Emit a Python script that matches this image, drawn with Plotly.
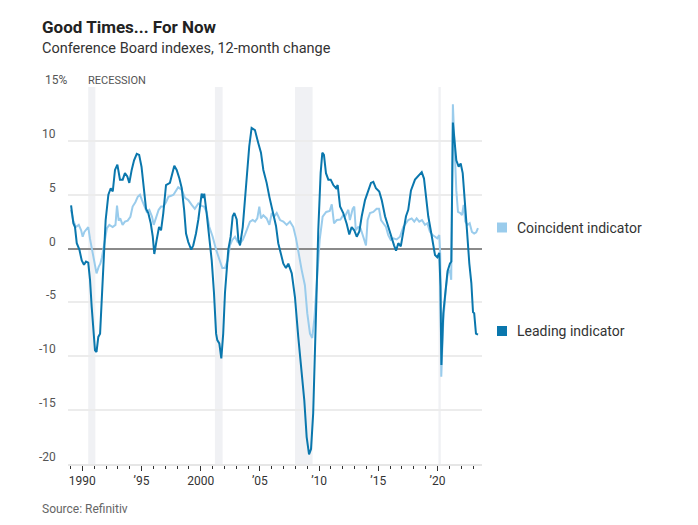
import plotly.graph_objects as go

# ---- data (decimal years, % 12-month change) ----
leading_years = [
    1989.05, 1989.15, 1989.24, 1989.38, 1989.53, 1989.75, 1989.95, 1990.14, 1990.31, 1990.5,
    1990.65, 1990.79, 1990.93, 1991.07, 1991.2, 1991.35, 1991.5, 1991.64, 1991.77, 1991.97,
    1992.2, 1992.4, 1992.57, 1992.76, 1992.96, 1993.18, 1993.41, 1993.6, 1993.8, 1993.97,
    1994.17, 1994.37, 1994.6, 1994.8, 1995.0, 1995.2, 1995.38, 1995.57, 1995.78, 1995.95,
    1996.08, 1996.28, 1996.48, 1996.65, 1996.84, 1997.07, 1997.4, 1997.77, 1997.97, 1998.2,
    1998.4, 1998.6, 1998.76, 1998.95, 1999.2, 1999.37, 1999.6, 1999.8, 1999.94, 2000.08,
    2000.2, 2000.3, 2000.5, 2000.7, 2000.93, 2001.12, 2001.3, 2001.4, 2001.57, 2001.74,
    2001.9, 2002.05, 2002.2, 2002.33, 2002.53, 2002.7, 2002.84, 2003.04, 2003.18, 2003.32,
    2003.55, 2003.74, 2003.94, 2004.1, 2004.3, 2004.45, 2004.58, 2004.86, 2005.09, 2005.29,
    2005.57, 2005.8, 2006.13, 2006.36, 2006.55, 2006.76, 2006.98, 2007.2, 2007.4, 2007.69,
    2007.96, 2008.24, 2008.53, 2008.75, 2008.95, 2009.15, 2009.32, 2009.5, 2009.74, 2009.93,
    2010.13, 2010.27, 2010.41, 2010.58, 2010.78, 2010.98, 2011.2, 2011.43, 2011.57, 2011.77,
    2012.04, 2012.33, 2012.55, 2012.75, 2012.97, 2013.18, 2013.4, 2013.6, 2013.88, 2014.15,
    2014.38, 2014.58, 2014.8, 2015.08, 2015.29, 2015.57, 2015.84, 2016.13, 2016.33, 2016.5,
    2016.69, 2016.9, 2017.11, 2017.34, 2017.53, 2017.76, 2018.1, 2018.38, 2018.67, 2018.86,
    2019.03, 2019.22, 2019.43, 2019.65, 2019.79, 2019.98, 2020.15, 2020.25, 2020.33, 2020.49,
    2020.65, 2020.85, 2021.05, 2021.17, 2021.3, 2021.45, 2021.59, 2021.79, 2021.96, 2022.13,
    2022.3, 2022.49, 2022.69, 2022.86, 2023.0, 2023.1, 2023.25, 2023.42,
]
leading_values = [
    4.0, 3.2, 2.35, 2.0, 0.5, -0.1, -1.1, -1.5, -1.2, -1.3,
    -2.9, -5.4, -7.9, -9.45, -9.6, -8.2, -7.9, -4.5, -0.8, 2.65,
    5.0, 5.6, 5.3, 7.3, 7.8, 6.4, 6.4, 7.0, 6.7, 6.1,
    7.3, 8.2, 8.8, 8.7, 7.6, 5.75, 3.7, 3.3, 2.35, 1.1,
    -0.5, 0.8, 2.0, 1.7, 3.3, 5.9, 6.1, 7.7, 7.3, 6.5,
    5.6, 3.6, 1.4, 0.6, -0.1, 0.3, 1.4, 2.7, 4.0, 5.1,
    4.7, 5.1, 3.3, 1.4, -1.1, -4.1, -7.9, -8.5, -8.8, -10.2,
    -7.9, -4.1, -1.7, -0.1, 1.1, 3.0, 3.3, 2.7, 0.8, 0.3,
    2.0, 4.5, 7.3, 9.5, 11.2, 11.1, 11.0, 9.8, 8.9, 7.3,
    6.1, 4.8, 3.3, 2.1, 0.5, -0.4, -1.4, -1.8, -1.4, -2.3,
    -4.5, -8.2, -11.3, -14.1, -17.5, -19.1, -18.6, -15.3, -6.0, 1.7,
    7.0, 8.9, 8.7, 7.0, 6.4, 6.4, 5.9, 5.6, 5.9, 3.9,
    3.3, 2.3, 1.3, 2.0, 1.7, 1.1, 1.6, 3.0, 4.5, 5.4,
    6.1, 6.2, 5.6, 5.3, 4.5, 3.0, 2.0, 0.9, 0.3, -0.2,
    0.5, 0.2, 1.7, 3.0, 3.6, 5.4, 6.4, 6.8, 7.1, 6.5,
    4.5, 3.0, 1.7, 0.5, -0.6, -0.8, -0.4, -3.5, -10.8, -6.0,
    -4.0, -2.1, -1.4, -1.2, 11.7, 10.1, 8.2, 7.6, 7.9, 7.0,
    4.8, 1.7, -1.4, -3.2, -5.9, -6.0, -7.9, -8.0,
]

coincident_years = [
    1989.04, 1989.15, 1989.24, 1989.46, 1989.7, 1989.9, 1990.03, 1990.17, 1990.37, 1990.5,
    1990.65, 1990.82, 1991.0, 1991.2, 1991.38, 1991.52, 1991.66, 1991.8, 1991.95, 1992.08,
    1992.28, 1992.56, 1992.8, 1992.93, 1993.07, 1993.2, 1993.4, 1993.6, 1993.83, 1994.06,
    1994.25, 1994.48, 1994.68, 1994.87, 1995.04, 1995.24, 1995.44, 1995.66, 1995.89, 1996.03,
    1996.23, 1996.45, 1996.65, 1996.85, 1997.07, 1997.27, 1997.5, 1997.7, 1998.1, 1998.4,
    1998.67, 1998.95, 1999.24, 1999.5, 1999.8, 2000.08, 2000.28, 2000.5, 2000.73, 2001.01,
    2001.3, 2001.57, 2001.82, 2002.05, 2002.28, 2002.47, 2002.67, 2002.9, 2003.12, 2003.32,
    2003.55, 2003.74, 2003.97, 2004.16, 2004.39, 2004.59, 2004.78, 2004.95, 2005.09, 2005.29,
    2005.57, 2005.8, 2006.0, 2006.19, 2006.42, 2006.7, 2006.98, 2007.26, 2007.54, 2007.82,
    2008.05, 2008.24, 2008.53, 2008.8, 2009.0, 2009.23, 2009.42, 2009.6, 2009.82, 2010.05,
    2010.3, 2010.6, 2010.9, 2011.07, 2011.26, 2011.5, 2011.8, 2012.04, 2012.19, 2012.47,
    2012.6, 2012.84, 2012.97, 2013.1, 2013.3, 2013.5, 2013.73, 2013.96, 2014.1, 2014.3,
    2014.58, 2014.86, 2015.06, 2015.23, 2015.42, 2015.65, 2015.84, 2016.05, 2016.27, 2016.55,
    2016.83, 2017.11, 2017.34, 2017.53, 2017.82, 2018.04, 2018.24, 2018.46, 2018.69, 2018.94,
    2019.14, 2019.36, 2019.59, 2019.79, 2019.98, 2020.15, 2020.23, 2020.32, 2020.49, 2020.69,
    2020.86, 2021.05, 2021.16, 2021.3, 2021.45, 2021.59, 2021.73, 2021.93, 2022.07, 2022.21,
    2022.35, 2022.55, 2022.72, 2022.91, 2023.1, 2023.27, 2023.42,
]
coincident_values = [
    3.6, 2.9, 2.6, 2.0, 2.2, 1.7, 1.1, 1.55, 1.9, 2.0,
    0.9, -0.15, -1.4, -2.3, -1.7, -1.4, -0.8, 0.15, 1.1, 1.9,
    2.2, 2.0, 2.2, 4.0, 2.6, 2.8, 2.2, 2.5, 2.6, 2.95,
    3.9, 4.3, 4.8, 5.0, 4.5, 3.9, 3.4, 3.6, 2.95, 2.2,
    2.8, 3.6, 3.9, 3.9, 4.3, 4.8, 4.9, 5.0, 5.7, 5.45,
    4.7, 4.5, 4.05, 3.7, 4.2, 3.96, 3.9, 3.4, 2.0, 1.1,
    -0.1, -1.1, -1.8, -1.8, -1.1, 0.3, 0.8, 1.1, 0.6, 0.5,
    0.8, 1.3, 2.0, 2.5, 2.65, 2.5, 2.8, 3.9, 2.8, 3.1,
    2.8, 2.2, 3.3, 2.96, 3.3, 2.65, 2.5, 2.2, 2.5, 2.0,
    0.95, -0.3, -2.0, -3.4, -6.0, -7.9, -8.3, -6.5, -2.9, 0.8,
    2.96, 3.4, 3.5, 4.1, 2.35, 2.65, 2.7, 3.1, 3.0, 3.6,
    2.65, 3.7, 3.9, 1.7, 2.0, 1.9, 1.1, 0.3, 2.65, 3.3,
    3.4, 3.7, 3.7, 2.65, 2.35, 2.0, 1.25, 0.8, 0.95, 0.85,
    1.1, 2.0, 2.35, 2.65, 2.8, 2.5, 2.8, 2.5, 2.65, 2.2,
    2.35, 1.55, 1.25, 1.1, 0.95, 1.25, -0.45, -11.9, -6.7, -3.9,
    -2.3, -2.0, -2.9, 13.4, 8.5, 5.4, 3.4, 3.3, 3.1, 4.05,
    2.5, 2.2, 2.35, 1.55, 1.4, 1.5, 1.9,
]

recession_starts = [1990.5, 2001.2, 2007.96, 2020.08]
recession_ends = [1991.1, 2001.85, 2009.45, 2020.28]

y_ticks = [15, 10, 5, 0, -5, -10, -15, -20]
x_tickvals = [1990, 1995, 2000, 2005, 2010, 2015, 2020]
x_ticktext = ["1990", "\u201995", "2000", "\u201905", "\u201910", "\u201915", "\u201920"]

LEAD = "#0a77ad"
COIN = "#9accec"
FONT = "Roboto"

# the page body adds an 8px offset; plot area spans 414 x 377 px
PW, PH = 414, 377

fig = go.Figure()

fig.add_trace(go.Scatter(x=coincident_years, y=coincident_values, mode="lines",
                         line=dict(color=COIN, width=2), name="Coincident indicator",
                         showlegend=False))
fig.add_trace(go.Scatter(x=leading_years, y=leading_values, mode="lines",
                         line=dict(color=LEAD, width=2), name="Leading indicator",
                         showlegend=False))

annotations = []
for v in y_ticks:
    if v == 15:
        annotations.append(dict(x=0, xref="paper", y=v, yref="y", text="15%",
                                xanchor="left", xshift=-25, yanchor="middle", yshift=7,
                                showarrow=False, font=dict(family=FONT, size=12, color="#555")))
    else:
        annotations.append(dict(x=0, xref="paper", y=v, yref="y", text=str(v),
                                xanchor="right", xshift=-10, yanchor="middle", yshift=7,
                                showarrow=False, font=dict(family=FONT, size=12, color="#555")))

annotations.append(dict(x=recession_starts[0], xref="x", y=15, yref="y", text="RECESSION",
                        xanchor="left", xshift=-2, yanchor="middle", yshift=7, showarrow=False,
                        font=dict(family=FONT, size=11, color="#555")))

annotations.append(dict(x=-28 / PW, xref="paper", y=1 + 60 / PH, yref="paper",
                        text="<b>Good Times... For Now</b>", xanchor="left", yanchor="middle",
                        showarrow=False, font=dict(family=FONT, size=17, color="#222")))
annotations.append(dict(x=-28 / PW, xref="paper", y=1 + 39 / PH, yref="paper",
                        text="Conference Board indexes, 12-month change", xanchor="left",
                        yanchor="middle", showarrow=False,
                        font=dict(family=FONT, size=14.5, color="#333")))
annotations.append(dict(x=-28 / PW, xref="paper", y=-(509 - 464) / PH, yref="paper",
                        text="Source: Refinitiv", xanchor="left", yanchor="middle",
                        showarrow=False, font=dict(family=FONT, size=12, color="#666")))

annotations.append(dict(x=(515 - 68) / PW, xref="paper", y=(464 - 227.5) / PH, yref="paper",
                        text="Coincident indicator", xanchor="left", yanchor="middle",
                        showarrow=False, font=dict(family=FONT, size=14, color="#333")))
annotations.append(dict(x=(515 - 68) / PW, xref="paper", y=(464 - 331) / PH, yref="paper",
                        text="Leading indicator", xanchor="left", yanchor="middle",
                        showarrow=False, font=dict(family=FONT, size=14, color="#333")))

shapes = [
    dict(type="rect", xref="x", yref="y", x0=s, x1=e, y0=-20, y1=15,
         fillcolor="#f0f1f4", line_width=0, layer="below")
    for s, e in zip(recession_starts, recession_ends)
] + [
    dict(type="rect", xref="paper", yref="paper", x0=(497 - 68) / PW, x1=(507 - 68) / PW,
         y0=(464 - 232.5) / PH, y1=(464 - 222.5) / PH, fillcolor=COIN, line_width=0),
    dict(type="rect", xref="paper", yref="paper", x0=(497 - 68) / PW, x1=(507 - 68) / PW,
         y0=(464 - 336) / PH, y1=(464 - 326) / PH, fillcolor=LEAD, line_width=0),
]

fig.update_layout(
    width=690, height=517,
    margin=dict(l=60, r=216, t=79, b=61),
    paper_bgcolor="white", plot_bgcolor="rgba(0,0,0,0)",
    font=dict(family=FONT, size=12, color="#333"),
    annotations=annotations,
    shapes=shapes,
    hovermode=False,
)
fig.update_xaxes(
    range=[1988.79, 2023.76], tickvals=x_tickvals, ticktext=x_ticktext,
    ticks="outside", ticklen=5, tickcolor="#333", tickwidth=1,
    minor=dict(dtick=1, tick0=1990, ticks="outside", ticklen=3, tickcolor="#333", tickwidth=1),
    showgrid=False, showline=True, linecolor="#e6e6e6", linewidth=2,
    tickfont=dict(family=FONT, size=12, color="#333"), zeroline=False,
)
fig.update_yaxes(
    range=[-20, 15], tickvals=y_ticks, showticklabels=False,
    showgrid=True, gridcolor="#ececec", gridwidth=1.5,
    zeroline=True, zerolinecolor="#8a8a8a", zerolinewidth=2, showline=False,
)

fig.write_html("out.html")
